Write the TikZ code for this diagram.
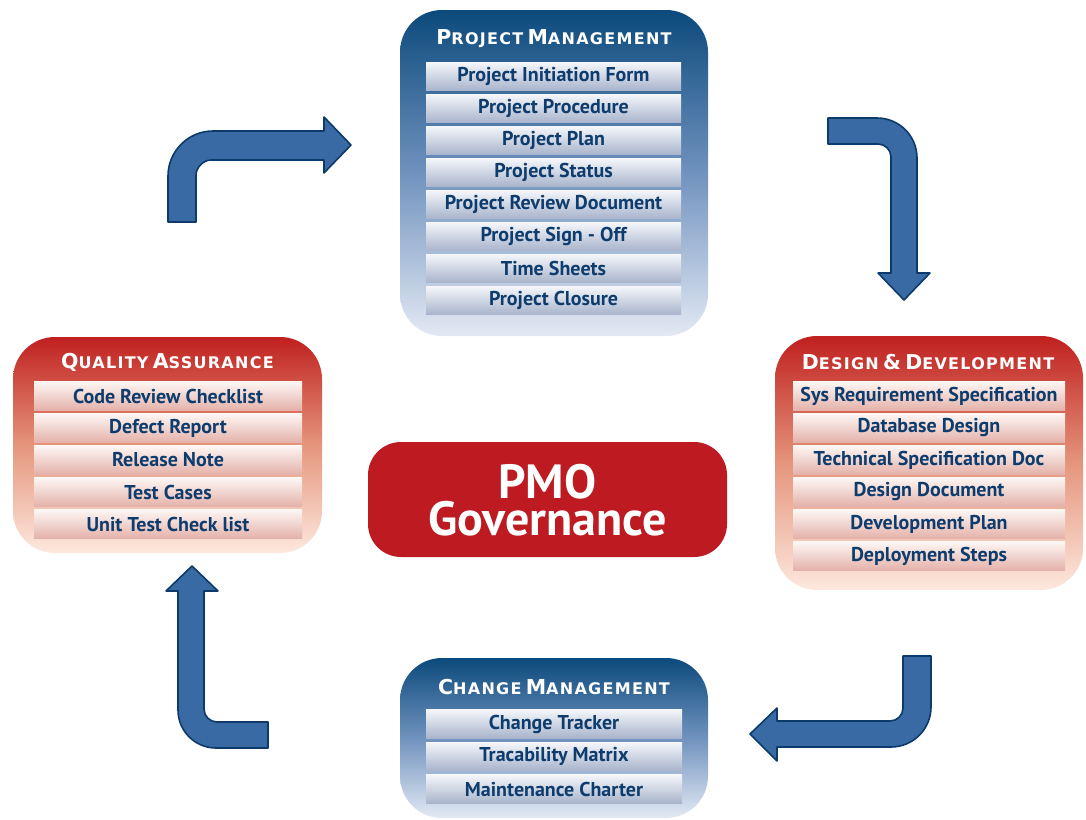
\documentclass[tikz,border=0pt]{standalone}
\usepackage{fontspec}
\setmainfont{PT Sans}
\newfontfamily\titlefont[LetterSpace=8]{DejaVu Sans}
\definecolor{bluetop}{HTML}{0B4A7C}
\definecolor{bluemid}{HTML}{7092BE}
\definecolor{bluebot}{HTML}{E3E9F4}
\definecolor{redtop}{HTML}{C0201F}
\definecolor{redmid}{HTML}{E5957C}
\definecolor{redbot}{HTML}{FDE8DE}
\definecolor{bbartop}{HTML}{F4F6FA}
\definecolor{bbarbot}{HTML}{A8B4CC}
\definecolor{rbartop}{HTML}{FDF6F3}
\definecolor{rbarbot}{HTML}{E4B2AA}
\definecolor{itemtext}{HTML}{0D3C6D}
\definecolor{arrowfill}{HTML}{3A6AA3}
\definecolor{arrowline}{HTML}{0B3A6B}
\definecolor{pmored}{HTML}{BD1A21}
\newcommand\bigL[1]{{\fontsize{20.5}{20.5}\selectfont #1}}
\newcommand\smL[1]{{\fontsize{16}{16}\selectfont #1}}
\tikzset{
  panel/.style={rounded corners=42pt, inner sep=0pt, draw=none},
  bluepanel/.style={panel, top color=bluetop, bottom color=bluebot, middle color=bluemid},
  redpanel/.style={panel, top color=redtop, bottom color=redbot, middle color=redmid},
  bar/.style={inner sep=0pt, minimum height=28.5pt, text=itemtext,
    font=\bfseries\fontsize{20}{20}\selectfont},
  bluebar/.style={bar, top color=bbartop, bottom color=bbarbot},
  redbar/.style={bar, top color=rbartop, bottom color=rbarbot},
  paneltitle/.style={text=white, font=\titlefont\bfseries, inner sep=0pt},
  pmotext/.style={text=white, inner sep=0pt, anchor=base, font=\bfseries\fontsize{48}{48}\selectfont},
  bigarrow/.style={fill=arrowfill, draw=arrowline, line width=1.6pt, line join=round},
}
\begin{document}
\begin{tikzpicture}[x=1pt,y=-1pt]
\useasboundingbox (0,0) rectangle (1086,819);
\fill[white] (0,0) rectangle (1086,819);

% ---- Project Management
\node[bluepanel, minimum width=308pt, minimum height=326pt] (pm) at (554,173) {};
\node[paneltitle] (pmt) at (554,39) {\bigL{P}\smL{ROJECT} \bigL{M}\smL{ANAGEMENT}};
\foreach \t [count=\i from 0] in {Project Initiation Form,Project Procedure,Project Plan,Project Status,Project Review Document,Project Sign - Off,Time Sheets,Project Closure}
  \node[bluebar, minimum width=255pt] (pm\i) at (553.5,{76.5+32*\i}) {\t};

% ---- Design & Development
\node[redpanel, minimum width=308pt, minimum height=254pt] (dd) at (929,463) {};
\node[paneltitle] (ddt) at (928,362) {\bigL{D}\smL{ESIGN} \bigL{\&} \bigL{D}\smL{EVELOPMENT}};
\foreach \t [count=\i from 0] in {Sys Requirement Specification,Database Design,Technical Specification Doc,Design Document,Development Plan,Deployment Steps}
  \node[redbar, minimum width=272pt] (dd\i) at (929,{396+32*\i}) {\t};

% ---- Quality Assurance
\node[redpanel, minimum width=309pt, minimum height=216pt] (qa) at (167.5,445) {};
\node[paneltitle] (qat) at (167.5,362) {\bigL{Q}\smL{UALITY} \bigL{A}\smL{SSURANCE}};
\foreach \t [count=\i from 0] in {Code Review Checklist,Defect Report,Release Note,Test Cases,Unit Test Check list}
  \node[redbar, minimum width=268pt] (qa\i) at (168,{396+32*\i}) {\t};

% ---- Change Management
\node[bluepanel, minimum width=308pt, minimum height=160pt] (cm) at (554,738) {};
\node[paneltitle] (cmt) at (554,687) {\bigL{C}\smL{HANGE} \bigL{M}\smL{ANAGEMENT}};
\foreach \t [count=\i from 0] in {Change Tracker,Tracability Matrix,Maintenance Charter}
  \node[bluebar, minimum width=256pt] (cm\i) at (554,{724+32.5*\i}) {\t};

% ---- PMO Governance
\node[fill=pmored, rounded corners=33pt, minimum width=359pt, minimum height=115pt,
      inner sep=0pt] (pmo) at (547.5,499.5) {};
\node[pmotext] (pmoa) at (547.5,498) {PMO};
\node[pmotext] (pmob) at (547.5,535) {Governance};

% ---- block arrows
\draw[bigarrow] (168,222) -- (168,176) .. controls (168,151.2) and (188.2,131) .. (213,131)
  -- (324,131) -- (324,117) -- (351,145) -- (324,173) -- (324,160) -- (211,160)
  .. controls (202.7,160) and (196,168.3) .. (196,175) -- (196,222) -- cycle;
\draw[bigarrow] (828,118) -- (877,118) .. controls (899.1,118) and (917,135.9) .. (917,158)
  -- (917,273) -- (930,273) -- (904,300) -- (878,273) -- (891,273) -- (891,157)
  .. controls (891,149.8) and (885.2,144) .. (878,144) -- (828,144) -- cycle;
\draw[bigarrow] (903,656) -- (931,656) -- (931,707) .. controls (931,729.1) and (913.1,747) .. (891,747)
  -- (777,747) -- (777,761) -- (750,734) -- (777,708) -- (777,721) -- (890,721)
  .. controls (897.2,721) and (903,715.2) .. (903,708) -- cycle;
\draw[bigarrow] (268,722) -- (217,722) .. controls (209.8,722) and (204,716.2) .. (204,709)
  -- (204,591) -- (218,591) -- (192,566) -- (166,591) -- (178,591) -- (178,710)
  .. controls (178,731) and (195,748) .. (216,748) -- (268,748) -- cycle;
\end{tikzpicture}
\end{document}
